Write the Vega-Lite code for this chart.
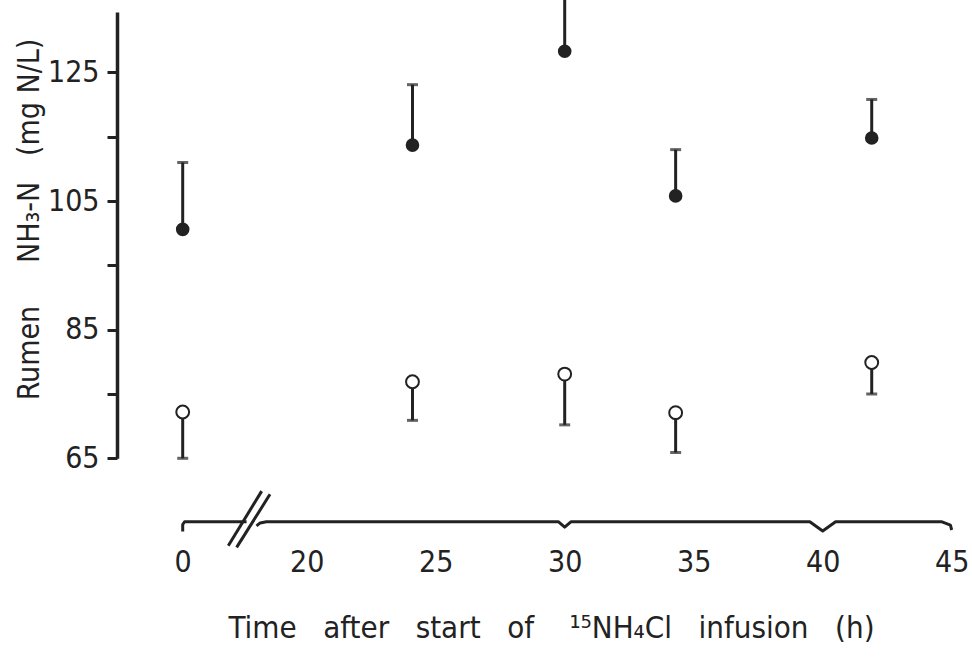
{
  "$schema": "https://vega.github.io/schema/vega-lite/v6.json",
  "width": 855,
  "height": 664,
  "autosize": {"type": "none"},
  "padding": {"left": 117, "top": 0, "right": 0, "bottom": 0},
  "background": "white",
  "config": {
    "view": {"stroke": null},
    "font": "DejaVu Sans Condensed, DejaVu Sans, sans-serif"
  },
  "datasets": {
    "points": [
      {"time": 0, "group": "filled", "mean": 100.6, "end": 111.0},
      {"time": 24.1, "group": "filled", "mean": 113.7, "end": 123.1},
      {"time": 30, "group": "filled", "mean": 128.3, "end": 138},
      {"time": 34.3, "group": "filled", "mean": 105.8, "end": 113.0},
      {"time": 41.9, "group": "filled", "mean": 114.8, "end": 120.8},
      {"time": 0, "group": "open", "mean": 72.2, "end": 65.0},
      {"time": 24.1, "group": "open", "mean": 76.9, "end": 70.9},
      {"time": 30, "group": "open", "mean": 78.1, "end": 70.2},
      {"time": 34.3, "group": "open", "mean": 72.1, "end": 65.9},
      {"time": 41.9, "group": "open", "mean": 79.9, "end": 75.0}
    ],
    "brace": [
      {"t": 0, "v": 53.6, "seg": "a", "ord": 1},
      {"t": 0, "v": 54.7, "seg": "a", "ord": 2},
      {"t": 0.3, "v": 55.14, "seg": "a", "ord": 3},
      {"t": 10.3, "v": 55.14, "seg": "a", "ord": 4},
      {"t": 11.9, "v": 54.5, "seg": "b", "ord": 1},
      {"t": 12.5, "v": 54.95, "seg": "b", "ord": 2},
      {"t": 13.5, "v": 55.14, "seg": "b", "ord": 3},
      {"t": 29.75, "v": 55.14, "seg": "b", "ord": 4},
      {"t": 30, "v": 54.3, "seg": "b", "ord": 5},
      {"t": 30.25, "v": 55.14, "seg": "b", "ord": 6},
      {"t": 39.5, "v": 55.14, "seg": "b", "ord": 7},
      {"t": 40, "v": 53.7, "seg": "b", "ord": 8},
      {"t": 40.5, "v": 55.14, "seg": "b", "ord": 9},
      {"t": 44.6, "v": 55.14, "seg": "b", "ord": 10},
      {"t": 44.95, "v": 54.6, "seg": "b", "ord": 11},
      {"t": 45, "v": 53.85, "seg": "b", "ord": 12}
    ],
    "breakmarks": [
      {"t1": 7.35, "v1": 51.4, "t2": 12.74, "v2": 59.9},
      {"t1": 8.7, "v1": 51.15, "t2": 14.08, "v2": 59.4}
    ]
  },
  "layer": [
    {
      "data": {"name": "points"},
      "mark": {"type": "rule", "strokeWidth": 3, "color": "#222"},
      "encoding": {
        "x": {"field": "time", "type": "quantitative",
          "scale": {"type": "linear", "domain": [0, 20, 45], "range": [65.7, 189.7, 834.7], "nice": false, "zero": false},
          "axis": {
            "values": [0, 20, 25, 30, 35, 40, 45],
            "domain": false, "ticks": false, "grid": false,
            "labelFlush": false,
            "offset": -120,
            "labelPadding": 3,
            "labelFontSize": 30,
            "labelColor": "#222",
            "title": "Time\u00a0\u00a0 after\u00a0\u00a0 start\u00a0\u00a0 of\u00a0\u00a0\u00a0 ¹⁵NH₄Cl\u00a0\u00a0 infusion\u00a0\u00a0 (h)",
            "titleFontSize": 31,
            "titleFontWeight": "normal",
            "titleColor": "#222",
            "titlePadding": 36,
            "titleX": 434,
            "titleAlign": "center"
          }
        },
        "y": {"field": "mean", "type": "quantitative",
          "scale": {"domain": [65, 134.4], "range": [458.3, 12], "nice": false, "zero": false},
          "axis": {
            "values": [65, 75, 85, 95, 105, 115, 125],
            "labelExpr": "datum.value % 20 == 5 ? datum.label : ''",
            "grid": false,
            "domainWidth": 3.5, "domainColor": "#222",
            "tickWidth": 3, "tickSize": 10, "tickColor": "#222",
            "labelFontSize": 30, "labelPadding": 8, "labelColor": "#222",
            "title": "Rumen\u00a0\u00a0\u00a0\u00a0 NH₃-N\u00a0\u00a0 (mg N/L)",
            "titleFontSize": 30, "titleFontWeight": "normal", "titleColor": "#222",
            "titleAngle": -90, "titleX": -88, "titleY": 219, "titleAlign": "center", "titleBaseline": "middle"
          }
        },
        "y2": {"field": "end"}
      }
    },
    {
      "data": {"name": "points"},
      "mark": {"type": "tick", "orient": "horizontal", "size": 11, "thickness": 3, "color": "#222"},
      "encoding": {
        "x": {"field": "time", "type": "quantitative"},
        "y": {"field": "end", "type": "quantitative"}
      }
    },
    {
      "data": {"name": "points"},
      "mark": {"type": "point", "shape": "circle", "strokeWidth": 2, "stroke": "#222", "opacity": 1},
      "encoding": {
        "x": {"field": "time", "type": "quantitative"},
        "y": {"field": "mean", "type": "quantitative"},
        "fill": {"field": "group", "type": "nominal", "scale": {"domain": ["filled", "open"], "range": ["#222", "white"]}, "legend": null},
        "size": {"field": "group", "type": "nominal", "scale": {"domain": ["filled", "open"], "range": [135, 165]}, "legend": null}
      }
    },
    {
      "data": {"name": "brace"},
      "mark": {"type": "line", "strokeWidth": 3, "color": "#222", "strokeJoin": "round"},
      "encoding": {
        "x": {"field": "t", "type": "quantitative"},
        "y": {"field": "v", "type": "quantitative"},
        "detail": {"field": "seg"},
        "order": {"field": "ord"}
      }
    },
    {
      "data": {"name": "breakmarks"},
      "mark": {"type": "rule", "strokeWidth": 3, "color": "#222"},
      "encoding": {
        "x": {"field": "t1", "type": "quantitative"},
        "y": {"field": "v1", "type": "quantitative"},
        "x2": {"field": "t2"},
        "y2": {"field": "v2"}
      }
    }
  ]
}
